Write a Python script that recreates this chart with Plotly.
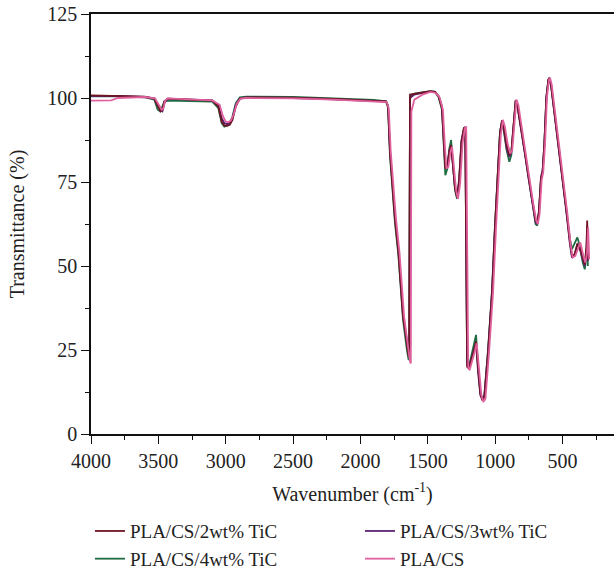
import plotly.graph_objects as go

# Shared wavenumber grid (cm^-1) for the TiC composites
wn = [4000, 3800, 3600, 3530, 3505, 3485, 3470, 3455, 3430, 3300, 3100, 3055, 3030, 3010, 2990, 2970, 2950, 2925, 2895, 2850,
      2500, 2200, 1900, 1810, 1795, 1781, 1744, 1718, 1684, 1655, 1642, 1638, 1632, 1600, 1540, 1480,
      1445, 1420, 1395, 1380, 1370, 1355, 1340, 1327, 1315, 1298, 1283, 1268, 1250, 1232, 1222, 1214, 1208, 1195, 1180, 1160,
      1142, 1127, 1110, 1095, 1080, 1053, 1023, 1001, 986, 964, 949, 935, 915, 895, 880, 865, 848, 835, 810, 780,
      750, 720, 700, 688, 675, 660, 648, 635, 620, 605, 598, 585, 560, 530, 500, 470, 445, 430, 410, 390, 375, 350, 335, 322, 317, 312]

t_2wt = [100.8, 100.7, 100.4, 99.8, 97.5, 96.0, 96.5, 99.0, 99.8, 99.5, 99.2, 97.5, 93.0, 91.8, 91.7, 92.0, 93.5, 97.5, 99.8, 100.2,
         100.1, 99.7, 99.3, 99.0, 97.5, 84, 64, 54, 35, 26, 23, 24, 101, 101.2, 101.6, 102.0,
         101.8, 100.5, 97, 85, 79, 79.5, 84, 86, 80, 73, 70.5, 75, 87, 91, 91.4, 60, 20, 19.5, 21.5, 24.5,
         27.5, 19, 12, 10, 11, 24, 42, 61.6, 73.5, 89.6, 93.4, 91, 86, 83, 84, 92, 99.4, 98, 92, 84,
         76, 68, 63.5, 62.8, 66, 76, 78, 86, 100, 105.5, 106, 104, 96, 86, 76, 66, 57, 53, 53.5, 56.5, 56, 52, 50.5, 56, 63.5, 52]

t_3wt = [100.6, 100.6, 100.3, 99.9, 98.0, 96.3, 96.0, 98.5, 99.8, 99.6, 99.3, 98.0, 94.0, 92.5, 92.2, 92.5, 94.0, 98.0, 99.8, 100.1,
         100.0, 99.6, 99.2, 98.9, 97.8, 85, 65, 55, 36, 27, 23.5, 23, 100, 101.0, 101.5, 101.9,
         101.7, 100.6, 97.5, 86, 79.5, 80, 84.5, 85.5, 80.5, 73.5, 71, 75.5, 87.5, 90.8, 91, 61, 21, 20, 22, 25,
         27, 18.5, 11.5, 10.2, 11.5, 24.5, 42.5, 62, 74, 89.5, 93, 90.5, 85, 82.5, 84, 92.5, 99, 97.5, 91.5, 83.5,
         75.5, 67.5, 63, 62.5, 66.5, 76.5, 78.5, 86.5, 100.5, 105.2, 105.8, 103.5, 95.5, 85.5, 75.5, 65.5, 56.5, 52.5, 53.5, 56.5, 55.5, 51.5, 50, 55, 62, 51.5]

t_4wt = [100.5, 100.5, 100.2, 99.5, 96.5, 96.0, 97.5, 99.0, 99.2, 99.0, 98.9, 97.0, 92.5, 91.5, 91.8, 92.5, 94.5, 98.5, 100.2, 100.4,
         100.3, 99.9, 99.4, 99.0, 97.0, 83, 63, 53, 34, 25, 22, 23, 100.5, 101.3, 101.7, 102.0,
         101.8, 100.2, 96.5, 82, 77, 79, 85, 87.5, 81, 72.5, 70, 74, 86.5, 91, 91, 59, 20.5, 20, 23, 26.5,
         29.5, 20, 12.5, 10.5, 11.5, 25, 43, 62.5, 74.5, 90, 93, 90, 84.5, 81, 83, 91.5, 99, 98, 92, 84,
         76, 67.5, 62.5, 62, 65.5, 75.5, 78, 86, 100, 105.5, 106, 104, 96, 86, 76, 66.5, 58, 55, 57, 58.5, 56.5, 51, 49, 53, 60, 50]

# PLA/CS has its own wavenumber grid
wn_pcs = [4000, 3850, 3800, 3600, 3525, 3495, 3475, 3462, 3450, 3430, 3300, 3100, 3045, 3020, 3000, 2982, 2962, 2942, 2918, 2890,
          2850, 2500, 2200, 1900, 1805, 1790, 1775, 1736, 1710, 1676, 1645, 1632, 1626, 1622, 1600, 1560, 1540, 1480, 1440, 1412,
          1388, 1372, 1362, 1347, 1332, 1320, 1308, 1290, 1276, 1260, 1242, 1225, 1215, 1206, 1200, 1190, 1175, 1155, 1137, 1120,
          1102, 1088, 1072, 1046, 1016, 994, 980, 958, 943, 928, 908, 888, 873, 858, 842, 828, 804, 775, 745, 715,
          695, 683, 670, 655, 643, 630, 615, 600, 593, 580, 555, 525, 495, 465, 440, 425, 405, 385, 368, 345, 330, 318, 310, 302]
t_pcs = [99.2, 99.3, 100.0, 100.3, 99.9, 97.8, 96.5, 97.0, 99.2, 99.9, 99.6, 99.3, 98.0, 94.5, 93.0, 92.8, 93.3, 95.0, 98.3, 99.8,
         100.0, 99.9, 99.5, 99.1, 98.8, 97.0, 84, 64, 54, 35, 25, 21.5, 21, 96, 99.5, 100.5, 101, 101.8, 101.5, 100.2,
         96.5, 85, 79, 79.5, 84, 85.5, 80, 72.5, 70, 74.5, 86.5, 91, 91.5, 60, 20, 19, 21, 24, 27, 18.5,
         11.5, 9.5, 10.5, 24, 42, 61, 73, 89, 93.5, 91.5, 86.5, 83.5, 84.5, 92.5, 99.5, 98, 92, 84, 76, 68,
         63.5, 62.5, 65.5, 75.5, 78, 86, 100.5, 105.5, 106, 104, 96, 86, 76, 66, 56.5, 52.5, 53, 55.5, 57, 53, 51, 54, 61.5, 52]

x_ticks = [4000, 3500, 3000, 2500, 2000, 1500, 1000, 500]
y_ticks = [0, 25, 50, 75, 100, 125]

FONT = "Liberation Serif"
FS = 20
LEGEND_FS = 19

series = [
    # name, x, y, color, legendrank
    ("PLA/CS/4wt% TiC", wn, t_4wt, "#1f6b43", 3),
    ("PLA/CS/3wt% TiC", wn, t_3wt, "#5a2470", 2),
    ("PLA/CS/2wt% TiC", wn, t_2wt, "#6e1423", 1),
    ("PLA/CS", wn_pcs, t_pcs, "#e0609e", 4),
]

fig = go.Figure()
for name, x, y, color, rank in series:
    fig.add_trace(go.Scatter(x=x, y=y, mode="lines", name=name, legendrank=rank,
                             line=dict(color=color, width=1.8)))

fig.update_layout(
    width=614, height=569,
    margin=dict(l=91, r=0, t=14, b=135, autoexpand=False),
    paper_bgcolor="white", plot_bgcolor="white",
    font=dict(family=FONT, size=FS, color="#222"),
    showlegend=True,
    legend=dict(orientation="h", x=-0.002, xanchor="left", y=-0.186, yanchor="top",
                entrywidth=225, entrywidthmode="pixels", font=dict(family=FONT, size=LEGEND_FS),
                tracegroupgap=0, bgcolor="rgba(0,0,0,0)"),
)
fig.update_xaxes(
    range=[4000, 118], tickvals=x_ticks, ticktext=[str(v) for v in x_ticks],
    automargin=False, ticklabeloverflow="allow",
    showline=True, linecolor="#111", linewidth=1.6, mirror=True,
    ticks="outside", ticklen=8, tickwidth=1.4, tickcolor="#111",
    minor=dict(dtick=250, ticks="outside", ticklen=4, tickwidth=1.2, tickcolor="#111"),
    showgrid=False, zeroline=False,
    title=dict(text="Wavenumber (cm<sup>-1</sup>)", standoff=16, font=dict(family=FONT, size=FS)),
    tickfont=dict(family=FONT, size=FS),
)
fig.update_yaxes(
    range=[0, 125], tickvals=y_ticks, ticktext=[str(v) for v in y_ticks],
    automargin=False, ticklabeloverflow="allow",
    showline=True, linecolor="#111", linewidth=1.6,
    ticks="outside", ticklen=8, tickwidth=1.4, tickcolor="#111",
    minor=dict(dtick=12.5, ticks="outside", ticklen=4, tickwidth=1.2, tickcolor="#111"),
    showgrid=False, zeroline=False,
    title=dict(text="Transmittance (%)", standoff=17, font=dict(family=FONT, size=FS)),
    tickfont=dict(family=FONT, size=FS),
)

# remove the browser's default 8px page margin so the figure fills the window exactly
fig.write_html("out.html", config={"displayModeBar": False},
               post_script="document.body.style.margin='0';")
